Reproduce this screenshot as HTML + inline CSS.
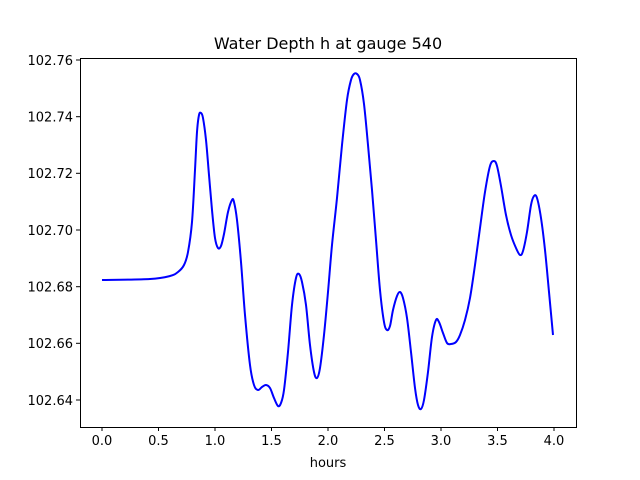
<!DOCTYPE html>
<html><head><meta charset="utf-8"><style>body{margin:0;background:#fff}svg{display:block}text{font-family:"DejaVu Sans","Liberation Sans",sans-serif;fill:#000}</style></head><body>
<svg width="640" height="480" viewBox="0 0 640 480">
<rect width="640" height="480" fill="#fff"/>
<path id="c" fill="none" stroke="#0000ff" stroke-width="2" stroke-linejoin="round" d=""/>
<polyline id="p" fill="none" stroke="#0000ff" stroke-width="2" stroke-linejoin="round" points="102,280 150,279 170,276 178,272 184,265 188,252 192,222 195,170 197,132 199,115 201,113 203,118 206,140 209,175 212,210 215,238 218,248 221,246 224,234 228,212 232,200 234,202 237,220 241,262 245,315 250,365 254,385 258,390 262,387 266,385 270,388 274,398 278,406 281,403 284,390 288,352 292,305 296,278 299,274 302,282 306,305 310,345 314,372 317,378 320,368 324,335 328,292 332,245 337,198 342,145 347,100 351,80 354,74 357,74 360,80 364,104 368,145 372,190 376,240 380,290 384,322 387,330 390,326 393,310 397,296 400,292 403,298 407,318 411,352 415,388 418,405 421,409 424,400 428,372 432,337 436,320 439,322 443,333 447,343 451,344 456,342 460,335 465,320 470,298 475,265 480,228 485,192 490,166 494,161 497,166 501,186 506,215 511,235 516,248 520,255 523,251 527,232 531,205 534,196 537,198 541,218 545,250 549,292 553,335"/>
<rect x="80.5" y="58.5" width="496" height="369" fill="none" stroke="#000" stroke-width="1"/>
<g stroke="#000" stroke-width="1">
<line x1="102" y1="427" x2="102" y2="431"/><line x1="158.5" y1="427" x2="158.5" y2="431"/><line x1="215" y1="427" x2="215" y2="431"/><line x1="271.5" y1="427" x2="271.5" y2="431"/><line x1="328" y1="427" x2="328" y2="431"/><line x1="384.5" y1="427" x2="384.5" y2="431"/><line x1="441" y1="427" x2="441" y2="431"/><line x1="497.5" y1="427" x2="497.5" y2="431"/><line x1="554" y1="427" x2="554" y2="431"/>
<line x1="76" y1="400" x2="80" y2="400"/><line x1="76" y1="343.3" x2="80" y2="343.3"/><line x1="76" y1="286.7" x2="80" y2="286.7"/><line x1="76" y1="230" x2="80" y2="230"/><line x1="76" y1="173.3" x2="80" y2="173.3"/><line x1="76" y1="116.7" x2="80" y2="116.7"/><line x1="76" y1="60" x2="80" y2="60"/>
</g>
<g font-size="13" text-anchor="middle">
<text x="102" y="445">0.0</text><text x="158.5" y="445">0.5</text><text x="215" y="445">1.0</text><text x="271.5" y="445">1.5</text><text x="328" y="445">2.0</text><text x="384.5" y="445">2.5</text><text x="441" y="445">3.0</text><text x="497.5" y="445">3.5</text><text x="554" y="445">4.0</text>
<text x="328" y="467">hours</text>
</g>
<g font-size="13" text-anchor="end">
<text x="73" y="405">102.64</text><text x="73" y="348">102.66</text><text x="73" y="291.5">102.68</text><text x="73" y="235">102.70</text><text x="73" y="178">102.72</text><text x="73" y="121.5">102.74</text><text x="73" y="65">102.76</text>
</g>
<text x="328" y="49" font-size="16" text-anchor="middle">Water Depth h at gauge 540</text>
</svg>
<script>
(function(){
var pl=document.getElementById('p');
var pts=pl.getAttribute('points').trim().split(/\s+/).map(function(s){return s.split(',').map(Number);});
var d='M'+pts[0][0]+','+pts[0][1];
for(var i=0;i<pts.length-1;i++){
var p0=pts[i>0?i-1:i],p1=pts[i],p2=pts[i+1],p3=pts[i+2<pts.length?i+2:i+1];
var c1x=p1[0]+(p2[0]-p0[0])/6,c1y=p1[1]+(p2[1]-p0[1])/6;
var c2x=p2[0]-(p3[0]-p1[0])/6,c2y=p2[1]-(p3[1]-p1[1])/6;
d+=' C'+c1x.toFixed(2)+','+c1y.toFixed(2)+' '+c2x.toFixed(2)+','+c2y.toFixed(2)+' '+p2[0]+','+p2[1];
}
document.getElementById('c').setAttribute('d',d);
pl.parentNode.removeChild(pl);
})();
</script>
</body></html>
